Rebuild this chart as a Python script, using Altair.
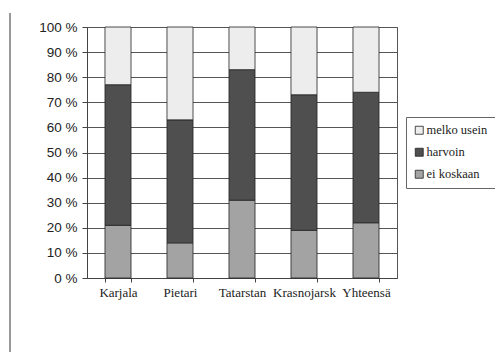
import altair as alt
import pandas as pd

regions = ["Karjala", "Pietari", "Tatarstan", "Krasnojarsk", "Yhteensä"]
series = ["melko usein", "harvoin", "ei koskaan"]
ei_koskaan = [21, 14, 31, 19, 22]
harvoin = [56, 49, 52, 54, 52]
melko_usein = [23, 37, 17, 27, 26]
colors = ["#ededed", "#4f4f4f", "#a3a3a3"]

rows = []
for i, r in enumerate(regions):
    rows.append({"alue": r, "vastaus": "ei koskaan", "arvo": ei_koskaan[i], "ord": 0})
    rows.append({"alue": r, "vastaus": "harvoin", "arvo": harvoin[i], "ord": 1})
    rows.append({"alue": r, "vastaus": "melko usein", "arvo": melko_usein[i], "ord": 2})
df = pd.DataFrame(rows)

serif = "'Liberation Serif', 'Times New Roman', serif"

bars = alt.Chart(df).mark_bar(stroke="#222", strokeWidth=0.8).encode(
    x=alt.X("alue:N", sort=regions, title=None,
            scale=alt.Scale(paddingInner=0.58, paddingOuter=0.29),
            axis=alt.Axis(labelAngle=0, labelFont=serif, labelFontSize=13,
                          labelColor="#222", tickBand="extent", tickSize=4,
                          tickColor="#444", domainColor="#444", labelPadding=4)),
    y=alt.Y("arvo:Q", stack="zero", title=None,
            scale=alt.Scale(domain=[0, 100], nice=False),
            axis=alt.Axis(values=list(range(0, 101, 10)), labelExpr="datum.value + ' %'",
                          labelFont="Liberation Sans", labelFontSize=13.5, labelColor="#222",
                          tickSize=5, tickColor="#444", domainColor="#444",
                          gridColor="#555", gridWidth=1, labelPadding=5)),
    color=alt.Color("vastaus:N", sort=series,
                    scale=alt.Scale(domain=series, range=colors),
                    legend=alt.Legend(title=None, orient="none", legendX=319, legendY=90,
                                      labelFont=serif, labelFontSize=12.5,
                                      labelColor="#222", symbolType="square", symbolSize=64,
                                      symbolStrokeColor="#222", symbolStrokeWidth=0.8,
                                      strokeColor="#666", padding=7, rowPadding=9,
                                      labelOffset=1)),
    order=alt.Order("ord:Q"),
)

edge = alt.Chart(pd.DataFrame({"a": [0]})).mark_rule(color="#555", strokeWidth=1.2).encode(
    x=alt.value(-77), y=alt.value(-14), y2=alt.value(345)
)

chart = alt.layer(bars, edge).properties(
    width=310, height=251,
    autosize=alt.AutoSizeParams(type="none"),
    padding={"left": 79, "top": 19, "right": 98, "bottom": 74},
).configure_view(stroke="#555", strokeWidth=1).configure_axis(
    grid=True
).configure_axisX(grid=False)

chart.save("out.html", embed_options={"renderer": "svg", "actions": False})
